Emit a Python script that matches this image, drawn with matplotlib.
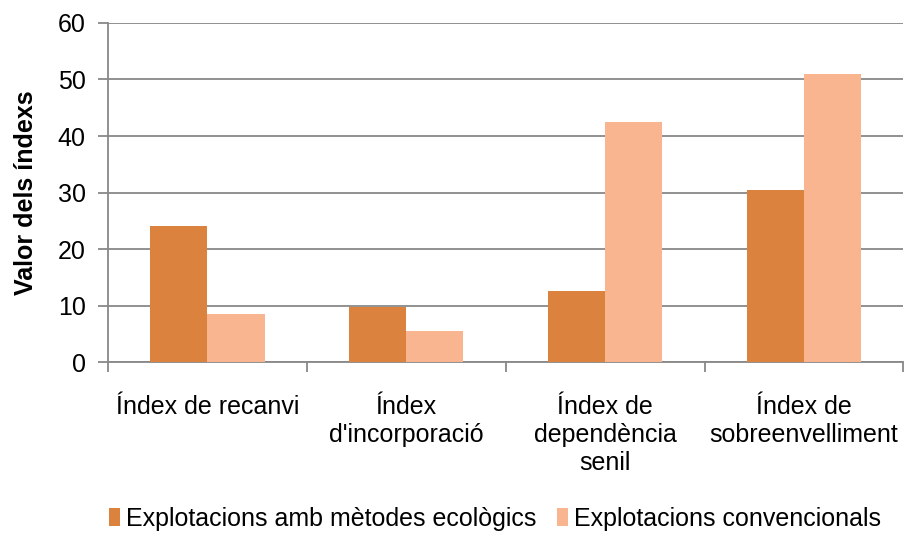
import matplotlib.pyplot as plt
import numpy as np

plt.rcParams['font.family'] = ['Liberation Sans', 'DejaVu Sans']

categories = ["Índex de recanvi", "Índex\nd'incorporació", "Índex de\ndependència\nsenil", "Índex de\nsobreenvelliment"]
ecologics = [24.1, 9.8, 12.5, 30.5]
convencionals = [8.6, 5.5, 42.5, 51.0]
series_names = ["Explotacions amb mètodes ecològics", "Explotacions convencionals"]

c_dark = '#DB833E'
c_light = '#F8B58F'
grid_c = '#888888'
fs = 18

fig = plt.figure(figsize=(9.08, 5.47), dpi=100)
ax = fig.add_axes([0.119, 0.338, 0.876, 0.62])

x = np.arange(len(categories))
w = 0.287
ax.bar(x - w / 2, ecologics, w, color=c_dark, label=series_names[0], zorder=3)
ax.bar(x + w / 2, convencionals, w, color=c_light, label=series_names[1], zorder=3)

ax.set_xlim(-0.5, len(categories) - 0.5)
ax.set_ylim(0, 60)
ax.set_yticks(range(0, 61, 10))
ax.yaxis.grid(True, color=grid_c, linewidth=1.3, zorder=0)
ax.tick_params(axis='y', labelsize=fs, length=7, color=grid_c, width=1.3, pad=9)

ax.set_xticks(x)
ax.set_xticklabels(categories, fontsize=fs, linespacing=1.2)
ax.tick_params(axis='x', which='major', length=0, pad=24)
ax.set_xticks(np.arange(-0.5, len(categories), 1), minor=True)
ax.tick_params(axis='x', which='minor', length=7, color=grid_c, width=1.3)

for s in ['top', 'right']:
    ax.spines[s].set_visible(False)
for s in ['left', 'bottom']:
    ax.spines[s].set_color(grid_c)
    ax.spines[s].set_linewidth(1.3)

ax.set_ylabel('Valor dels índexs', fontsize=fs, fontweight='bold', labelpad=14)

fig.legend(loc='center', bbox_to_anchor=(0.545, 0.052), ncol=2, frameon=False,
           fontsize=fs, handlelength=0.45, handleheight=0.75, handletextpad=0.25,
           columnspacing=0.8)

fig.savefig('out.png', dpi=100)
